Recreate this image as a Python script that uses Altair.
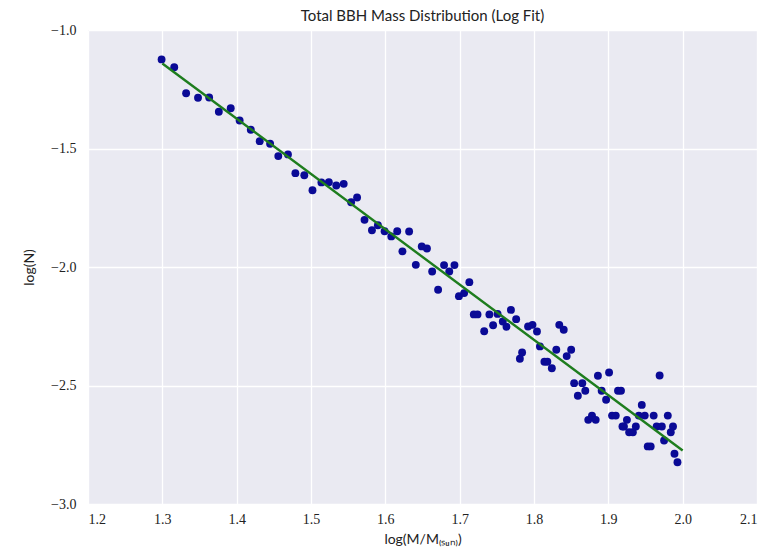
import altair as alt
import pandas as pd

log_mass = [
    1.299, 1.316, 1.332, 1.348, 1.363, 1.376, 1.392, 1.404, 1.419, 1.431,
    1.445, 1.456, 1.469, 1.479, 1.491, 1.502, 1.514, 1.524, 1.534, 1.544,
    1.554, 1.562, 1.572, 1.582, 1.590, 1.599, 1.608, 1.616, 1.623, 1.632,
    1.641, 1.649, 1.656, 1.663, 1.671, 1.679, 1.686, 1.693, 1.699, 1.706,
    1.713, 1.719, 1.724, 1.733, 1.740, 1.745, 1.751, 1.758, 1.763, 1.769,
    1.776, 1.781, 1.784, 1.792, 1.798, 1.804, 1.808, 1.814, 1.818, 1.824,
    1.830, 1.834, 1.840, 1.844, 1.850, 1.854, 1.859, 1.865, 1.869, 1.873,
    1.878, 1.883, 1.886, 1.891, 1.897, 1.901, 1.905, 1.910, 1.913, 1.917,
    1.919, 1.921, 1.925, 1.928, 1.933, 1.937, 1.941, 1.945, 1.949, 1.953,
    1.957, 1.961, 1.965, 1.969, 1.972, 1.975, 1.980, 1.984, 1.987, 1.989,
    1.993,
]
log_n = [
    -1.124, -1.157, -1.267, -1.286, -1.285, -1.345, -1.330, -1.382, -1.421, -1.469,
    -1.480, -1.532, -1.525, -1.604, -1.613, -1.676, -1.643, -1.642, -1.656, -1.649,
    -1.727, -1.707, -1.801, -1.845, -1.824, -1.849, -1.871, -1.849, -1.934, -1.850,
    -1.991, -1.913, -1.922, -2.019, -2.096, -1.992, -2.019, -1.992, -2.123, -2.110,
    -2.064, -2.200, -2.200, -2.271, -2.200, -2.246, -2.198, -2.230, -2.252, -2.181,
    -2.220, -2.387, -2.361, -2.251, -2.244, -2.272, -2.335, -2.400, -2.400, -2.427,
    -2.349, -2.244, -2.265, -2.376, -2.349, -2.490, -2.543, -2.490, -2.522, -2.645,
    -2.627, -2.645, -2.459, -2.522, -2.560, -2.445, -2.627, -2.627, -2.522, -2.522,
    -2.673, -2.673, -2.645, -2.697, -2.697, -2.673, -2.627, -2.582, -2.627, -2.757,
    -2.757, -2.627, -2.673, -2.458, -2.673, -2.732, -2.627, -2.697, -2.673, -2.788,
    -2.824,
]

fit_x = [1.30, 2.00]
fit_y = [-1.141, -2.774]

pts = pd.DataFrame({"x": log_mass, "y": log_n})
fit = pd.DataFrame({"x": fit_x, "y": fit_y})

x_enc = alt.X("x:Q", scale=alt.Scale(domain=[1.2, 2.1], nice=False, zero=False),
              axis=alt.Axis(values=[1.2, 1.3, 1.4, 1.5, 1.6, 1.7, 1.8, 1.9, 2.0, 2.1],
                            format=".1f", title="log(M/M₍ₛᵤₙ₎)"))
y_enc = alt.Y("y:Q", scale=alt.Scale(domain=[-3.0, -1.0], nice=False, zero=False),
              axis=alt.Axis(values=[-3.0, -2.5, -2.0, -1.5, -1.0], format=".1f",
                            title="log(N)"))

points = alt.Chart(pts).mark_circle(size=62, color="#0a0a96", opacity=1).encode(x=x_enc, y=y_enc)
line = alt.Chart(fit).mark_line(color="#1e7d1e", strokeWidth=2.4).encode(x="x:Q", y="y:Q")

chart = (points + line).properties(
    width=669, height=474,
    title=alt.TitleParams("Total BBH Mass Distribution (Log Fit)", font="Lato",
                          fontSize=15, fontWeight="normal", color="#222222", offset=-1),
    autosize=alt.AutoSizeParams(type="none"),
    padding={"left": 88, "top": 30, "right": 14, "bottom": 48},
).configure_view(
    fill="#EAEAF2", stroke=None
).configure_axis(
    grid=True, gridColor="white", gridWidth=1.3, domain=False, ticks=False,
    labelFont="Liberation Serif", labelFontSize=14, labelColor="#222222", labelPadding=8,
    titleFont="Lato", titleFontSize=14, titleFontWeight="normal", titleColor="#222222",
).configure_axisY(
    titlePadding=14, labelPadding=12
).configure_axisX(
    titlePadding=6
)

chart.save("out.html", embed_options={"renderer": "svg", "actions": False})
